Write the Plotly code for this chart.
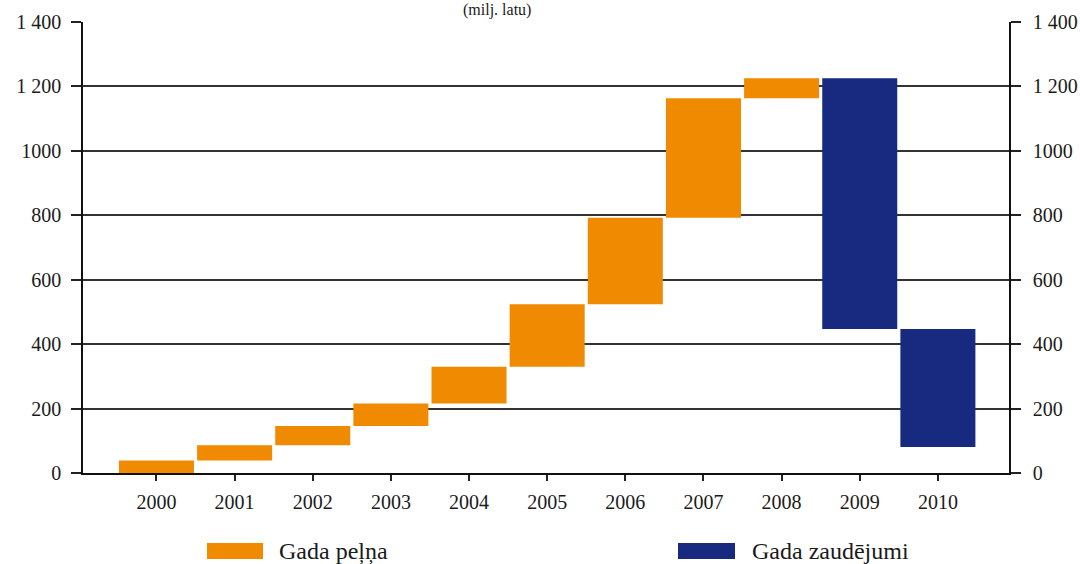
import numpy as np
import plotly.graph_objects as go

# Annual result of the banking sector, million lats
years = [2000, 2001, 2002, 2003, 2004, 2005, 2006, 2007, 2008, 2009, 2010]
annual_result = [39, 47, 60, 70, 114, 194, 268, 371, 62, -778, -366]

y_tickvals = [0, 200, 400, 600, 800, 1000, 1200, 1400]
y_ticktext = ["0", "200", "400", "600", "800", "1000", "1 200", "1 400"]

profit_name = "Gada peļņa"
loss_name = "Gada zaudējumi"
unit_text = "(milj. latu)"

ORANGE = "#F08A00"
NAVY = "#172A80"
FONT = "Liberation Serif"

# waterfall bases: each bar starts where the running total ended
values = np.array(annual_result, dtype=float)
ends = np.cumsum(values)
starts = ends - values

profit_mask = values > 0
loss_mask = ~profit_mask

# figure geometry (pixels)
W, H = 1080, 564
ML, MR, MT, MB = 83, 71, 22, 91
PW, PH = W - ML - MR, H - MT - MB


def px_x(p):
    return (p - ML) / PW


def px_y(p):
    return (H - MB - p) / PH


fig = go.Figure()
fig.add_trace(go.Bar(
    x=np.array(years)[profit_mask], y=values[profit_mask], base=starts[profit_mask],
    width=0.96, marker=dict(color=ORANGE, line=dict(width=0)), name=profit_name,
    showlegend=False,
))
fig.add_trace(go.Bar(
    x=np.array(years)[loss_mask], y=values[loss_mask], base=starts[loss_mask],
    width=0.96, marker=dict(color=NAVY, line=dict(width=0)), name=loss_name,
    showlegend=False,
))
# invisible trace that carries the right-hand value axis
fig.add_trace(go.Scatter(x=[years[0]], y=[0], yaxis="y2", mode="markers",
                         marker=dict(opacity=0), showlegend=False, hoverinfo="skip"))

tick_font = dict(family=FONT, size=20, color="#1a1a1a")
yaxis_common = dict(
    range=[0, 1400], tickvals=y_tickvals, ticktext=y_ticktext,
    ticks="outside", ticklen=10, tickwidth=1.5, tickcolor="#222",
    showline=True, linecolor="#111", linewidth=1.5,
    zeroline=False, tickfont=tick_font, fixedrange=True, automargin=False,
)

fig.update_layout(
    width=W, height=H,
    margin=dict(l=ML, r=MR, t=MT, b=MB, pad=0, autoexpand=False),
    paper_bgcolor="white", plot_bgcolor="white",
    barmode="overlay",
    font=dict(family=FONT, color="#1a1a1a"),
    xaxis=dict(
        range=[1999.06, 2010.91], tickvals=years, ticktext=[str(y) for y in years],
        ticks="outside", ticklen=6, tickwidth=1.5, tickcolor="#222",
        showline=True, linecolor="#111", linewidth=1.5, showgrid=False,
        zeroline=False, tickfont=tick_font, ticklabelstandoff=4, automargin=False,
    ),
    yaxis=dict(showgrid=True, gridcolor="#333", gridwidth=1.5,
               ticklabelstandoff=6, **yaxis_common),
    yaxis2=dict(overlaying="y", side="right", showgrid=False,
                ticklabelstandoff=8, **yaxis_common),
)

# unit caption above the plot
fig.add_annotation(
    text=unit_text, xref="paper", yref="paper", x=px_x(497), y=px_y(20),
    xanchor="center", yanchor="bottom", showarrow=False, borderpad=0,
    font=dict(family=FONT, size=16, color="#1a1a1a"),
)

# legend below the axis: wide colour swatches with labels
legend_items = [(profit_name, ORANGE, 207, 263, 277), (loss_name, NAVY, 678, 735, 750)]
for label, color, x0, x1, tx in legend_items:
    fig.add_shape(type="rect", xref="paper", yref="paper",
                  x0=px_x(x0), x1=px_x(x1), y0=px_y(559), y1=px_y(543),
                  fillcolor=color, line=dict(width=0))
    fig.add_annotation(text=label, xref="paper", yref="paper",
                       x=px_x(tx), y=px_y(551), xanchor="left", yanchor="middle",
                       showarrow=False,
                       font=dict(family=FONT, size=24, color="#1a1a1a"))

fig.write_html("out.html")
